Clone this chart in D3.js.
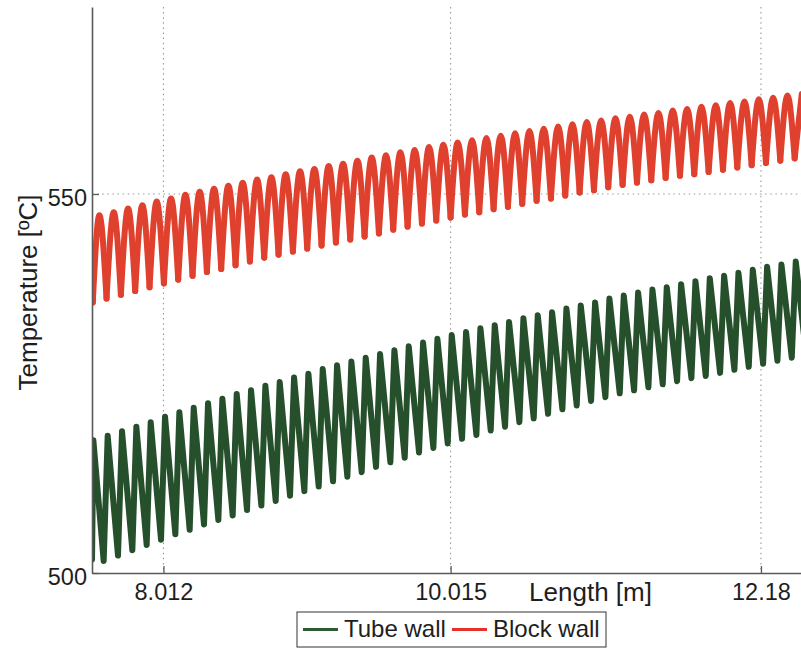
<!DOCTYPE html>
<html><head><meta charset="utf-8">
<script src="https://cdn.jsdelivr.net/npm/d3@7"></script>
<style>html,body{margin:0;padding:0;background:#fff;} svg{display:block;font-family:"Liberation Sans",Arial,Helvetica,sans-serif;}</style>
</head><body><svg id="chart" width="801" height="649"></svg>
<script>
// ---- data ----
const xTicks = [8.012, 10.015, 12.18];
const xTickLabels = ["8.012", "10.015", "12.18"];
const yTicks = [500, 550];
const yTickLabels = ["500", "550"];
const seriesNames = ["Tube wall", "Block wall"];
const xLabel = "Length [m]";
const yLabel = "Temperature [ºC]";

// Tube wall: start point, local maxima and local minima
const tubeStartLen = 7.5137, tubeStartT = 501.8;
const tubePeakLen = [7.523,7.623,7.723,7.823,7.923,8.023,8.123,8.223,8.323,8.423,
  8.523,8.623,8.723,8.823,8.923,9.023,9.123,9.223,9.323,9.423,
  9.523,9.623,9.723,9.823,9.923,10.023,10.123,10.223,10.323,10.423,
  10.523,10.623,10.723,10.823,10.923,11.023,11.123,11.223,11.323,11.423,
  11.523,11.623,11.723,11.823,11.923,12.023,12.123,12.223,12.323,12.423];
const tubePeakT = [517.5,518.1,518.7,519.3,519.9,520.6,521.2,521.8,522.4,523.0,
  523.6,524.1,524.7,525.2,525.8,526.3,526.9,527.4,527.9,528.4,
  528.9,529.4,529.9,530.4,530.9,531.4,531.8,532.3,532.7,533.1,
  533.6,534.0,534.4,534.9,535.3,535.7,536.2,536.6,537.0,537.4,
  537.7,538.1,538.5,538.9,539.2,539.6,540.0,540.4,540.7,541.1];
const tubeTroughLen = [7.595,7.695,7.795,7.895,7.995,8.095,8.195,8.295,8.395,8.495,
  8.595,8.695,8.795,8.895,8.995,9.095,9.195,9.295,9.395,9.495,
  9.595,9.695,9.795,9.895,9.995,10.095,10.195,10.295,10.395,10.495,
  10.595,10.695,10.795,10.895,10.995,11.095,11.195,11.295,11.395,11.495,
  11.595,11.695,11.795,11.895,11.995,12.095,12.195,12.295,12.395,12.495];
const tubeTroughT = [501.6,502.3,503.0,503.7,504.4,505.1,505.7,506.4,507.0,507.6,
  508.3,508.9,509.5,510.2,510.8,511.4,512.1,512.7,513.3,514.0,
  514.6,515.2,515.9,516.5,517.1,517.7,518.2,518.8,519.3,519.9,
  520.4,521.0,521.6,522.1,522.7,523.2,523.7,524.1,524.5,524.9,
  525.3,525.7,526.0,526.4,526.8,527.2,527.6,528.0,528.4,528.8];

// Block wall: start point, local minima and local maxima
const blockStartLen = 7.5137, blockStartT = 540.4;
const blockTroughLen = [7.519,7.615,7.715,7.815,7.915,8.015,8.115,8.215,8.315,8.415,
  8.515,8.615,8.715,8.815,8.915,9.015,9.115,9.215,9.315,9.415,
  9.515,9.615,9.715,9.815,9.915,10.015,10.115,10.215,10.315,10.415,
  10.515,10.615,10.715,10.815,10.915,11.015,11.115,11.215,11.315,11.415,
  11.515,11.615,11.715,11.815,11.915,12.015,12.115,12.215,12.315,12.415];
const blockTroughT = [535.7,536.2,536.7,537.2,537.7,538.2,538.7,539.2,539.7,540.1,
  540.6,541.1,541.6,542.0,542.4,542.8,543.2,543.6,544.0,544.4,
  544.8,545.3,545.7,546.1,546.5,546.9,547.3,547.6,548.0,548.3,
  548.7,549.1,549.4,549.8,550.2,550.5,550.9,551.2,551.5,551.8,
  552.1,552.4,552.6,552.9,553.2,553.5,553.8,554.1,554.4,554.7];
const blockPeakLen = [7.565,7.665,7.765,7.865,7.965,8.065,8.165,8.265,8.365,8.465,
  8.565,8.665,8.765,8.865,8.965,9.065,9.165,9.265,9.365,9.465,
  9.565,9.665,9.765,9.865,9.965,10.065,10.165,10.265,10.365,10.465,
  10.565,10.665,10.765,10.865,10.965,11.065,11.165,11.265,11.365,11.465,
  11.565,11.665,11.765,11.865,11.965,12.065,12.165,12.265,12.365,12.465];
const blockPeakT = [547.2,547.6,548.1,548.5,549.0,549.4,549.9,550.3,550.7,551.1,
  551.5,551.9,552.2,552.6,553.0,553.3,553.7,554.0,554.4,554.8,
  555.1,555.5,555.8,556.2,556.5,556.8,557.1,557.4,557.7,558.0,
  558.3,558.6,558.9,559.2,559.5,559.7,560.0,560.2,560.5,560.7,
  561.0,561.2,561.5,561.7,562.0,562.2,562.5,562.7,563.0,563.2];

const xDomain = [7.5136, 12.4594];
const yDomain = [500, 574.67];

// ---- drawing ----
const svg = d3.select("#chart");
const L = 92, R = 801, T = 7, B = 573;
const x = d3.scaleLinear().domain(xDomain).range([L, R]);
const y = d3.scaleLinear().domain(yDomain).range([B, T]);
const tubeColor = "#25502b", blockColor = "#e0402e";
const axisColor = "#5a5a5a", textColor = "#1e1e1e";

svg.append("rect").attr("width", 801).attr("height", 649).attr("fill", "#fff");
svg.append("defs").append("clipPath").attr("id", "plotclip")
  .append("rect").attr("x", L).attr("y", 0).attr("width", R - L + 20).attr("height", B);

// grid
const grid = svg.append("g").attr("stroke", "#9a9a9a").attr("stroke-width", 1.1)
  .attr("stroke-dasharray", "1.5,3.6");
grid.selectAll("line.gx").data(xTicks).join("line")
  .attr("x1", d => x(d)).attr("x2", d => x(d)).attr("y1", T).attr("y2", B);
grid.selectAll("line.gy").data(yTicks.filter(v => v !== yDomain[0])).join("line")
  .attr("x1", L).attr("x2", R).attr("y1", d => y(d)).attr("y2", d => y(d));

// series
const plot = svg.append("g").attr("clip-path", "url(#plotclip)");

// tube wall: zigzag through start, peaks and troughs
const tubePts = [[tubeStartLen, tubeStartT]];
tubePeakLen.forEach((len, i) => {
  tubePts.push([len, tubePeakT[i]]);
  tubePts.push([tubeTroughLen[i], tubeTroughT[i]]);
});
const linear = d3.line().x(d => x(d[0])).y(d => y(d[1]));
plot.append("path").datum(tubePts).attr("d", linear)
  .attr("fill", "none").attr("stroke", tubeColor).attr("stroke-width", 6)
  .attr("stroke-linejoin", "round").attr("stroke-linecap", "round");

// block wall: arcs from trough to trough (rounded crests, cusped troughs)
const arc = d3.line().x(d => x(d[0])).y(d => y(d[1])).curve(d3.curveMonotoneX);
const blockSegs = [[[blockStartLen, blockStartT], [blockTroughLen[0], blockTroughT[0]]]];
blockTroughLen.forEach((len, i) => {
  const seg = [[len, blockTroughT[i]], [blockPeakLen[i], blockPeakT[i]]];
  if (i + 1 < blockTroughLen.length) seg.push([blockTroughLen[i + 1], blockTroughT[i + 1]]);
  blockSegs.push(seg);
});
plot.selectAll("path.block").data(blockSegs).join("path").attr("class", "block")
  .attr("d", arc).attr("fill", "none").attr("stroke", blockColor).attr("stroke-width", 6)
  .attr("stroke-linejoin", "round").attr("stroke-linecap", "round");

// axes
const xAxis = d3.axisBottom(x).tickValues(xTicks).tickFormat((d, i) => xTickLabels[i])
  .tickSizeInner(-7).tickSizeOuter(0).tickPadding(10);
const gx = svg.append("g").attr("transform", `translate(0,${B})`).call(xAxis);
gx.select(".domain").attr("stroke", axisColor).attr("stroke-width", 1.6);
gx.selectAll(".tick line").attr("stroke", axisColor).attr("stroke-width", 1.3);
gx.selectAll(".tick text").attr("fill", textColor).style("font-size", "23.5px")
  .style("font-family", '"Liberation Sans", Arial, sans-serif');

const yAxis = d3.axisLeft(y).tickValues(yTicks).tickFormat((d, i) => yTickLabels[i])
  .tickSizeInner(-7).tickSizeOuter(0).tickPadding(5);
const gy = svg.append("g").attr("transform", `translate(${L},0)`).call(yAxis);
gy.select(".domain").attr("stroke", axisColor).attr("stroke-width", 1.6);
gy.selectAll(".tick line").attr("stroke", axisColor).attr("stroke-width", 1.3);
gy.selectAll(".tick text").attr("fill", textColor).attr("dy", "0.5em").style("font-size", "23.5px")
  .style("font-family", '"Liberation Sans", Arial, sans-serif');

// axis labels
svg.append("text").attr("x", 590.5).attr("y", 601).attr("text-anchor", "middle")
  .attr("fill", textColor).style("font-size", "26px").text(xLabel);
svg.append("text").attr("transform", "translate(37,292.5) rotate(-90)").attr("text-anchor", "middle")
  .attr("fill", textColor).style("font-size", "26px").text(yLabel);

// legend
const lg = svg.append("g");
lg.append("rect").attr("x", 297).attr("y", 612).attr("width", 309).attr("height", 35)
  .attr("fill", "#fff").attr("stroke", "#333").attr("stroke-width", 1);
const legendItems = [
  {name: seriesNames[0], color: "#2e5a33", x0: 303},
  {name: seriesNames[1], color: "#e8302a", x0: 452}
];
legendItems.forEach(it => {
  lg.append("line").attr("x1", it.x0).attr("x2", it.x0 + 35).attr("y1", 629.5).attr("y2", 629.5)
    .attr("stroke", it.color).attr("stroke-width", 3);
  lg.append("text").attr("x", it.x0 + 41).attr("y", 637).attr("fill", textColor)
    .style("font-size", "24px").text(it.name);
});
</script></body></html>
